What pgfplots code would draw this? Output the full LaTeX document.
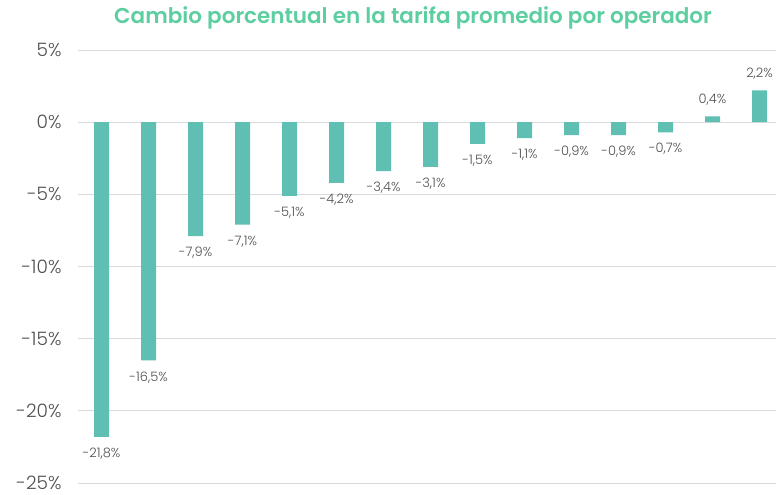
\documentclass[border=0pt]{standalone}
\usepackage{fontspec}
\setmainfont{Poppins}[UprightFont={* Light}, BoldFont={* SemiBold}]
\usepackage{pgfplots}
\pgfplotsset{compat=1.18}

\definecolor{barteal}{RGB}{94,191,178}
\definecolor{titlegreen}{RGB}{93,206,160}
\definecolor{labelgray}{RGB}{80,80,80}
\definecolor{gridgray}{RGB}{218,218,218}

\pgfplotstableread{
x  val
0  -21.8
1  -16.5
2  -7.9
3  -7.1
4  -5.1
5  -4.2
6  -3.4
7  -3.1
8  -1.5
9  -1.1
10 -0.9
11 -0.9
12 -0.7
13 0.4
14 2.2
}\cambio

\begin{document}
\begin{tikzpicture}
\begin{axis}[
  name=ax,
  scale only axis,
  width=698pt, height=433pt,
  xmin=-0.5, xmax=14.35,
  ymin=-25, ymax=5,
  ytick={-25,-20,...,5},
  xtick=\empty,
  axis line style={draw=none},
  major tick length=0pt,
  ymajorgrids,
  major grid style={gridgray, line width=0.9pt},
  yticklabel={\pgfmathprintnumber[assume math mode=true]{\tick}\%},
  yticklabel style={font=\fontsize{18.5}{21}\selectfont, text=labelgray, anchor=east, xshift=-13pt},
  title={Cambio porcentual en la tarifa promedio por operador},
  title style={font=\fontsize{21.5}{24}\selectfont\bfseries, text=titlegreen,
    at={(0.48,1)}, anchor=base, yshift=20pt},
  clip=false,
]
\addplot[ybar, bar width=15pt, fill=barteal, draw=none,
  nodes near coords={\pgfmathprintnumber[fixed,fixed zerofill,precision=1,use comma,assume math mode=true]{\pgfplotspointmeta}\%},
  nodes near coords align={vertical},
  every node near coord/.append style={font=\fontsize{13}{15}\selectfont, text=labelgray, inner sep=11pt},
] table[x=x, y=val] {\cambio};
\end{axis}
\pgfresetboundingbox
\path[use as bounding box] ([xshift=-78pt,yshift=-12pt]ax.south west) rectangle ([yshift=50pt]ax.north east);
\end{tikzpicture}
\end{document}
